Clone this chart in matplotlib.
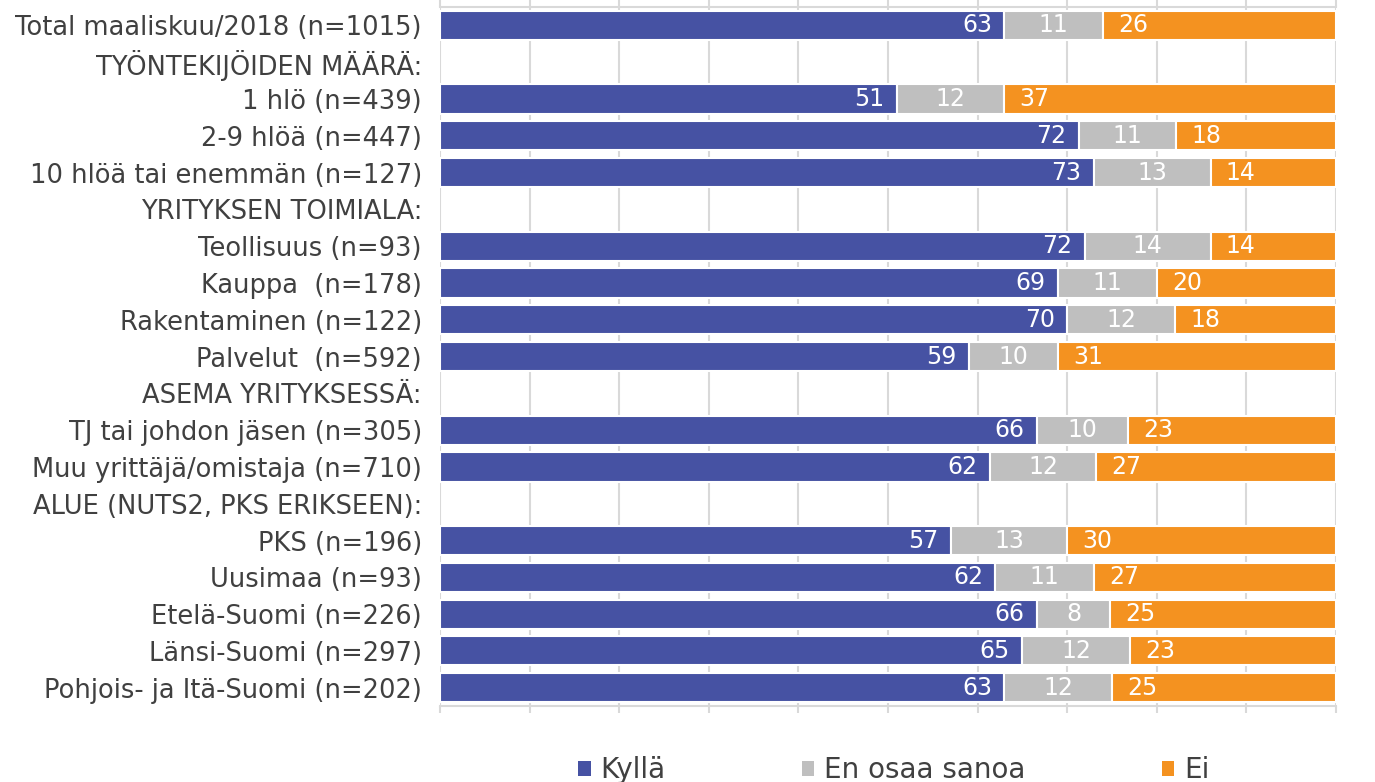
import numpy as np
import matplotlib
matplotlib.use("Agg")
import matplotlib.pyplot as plt
from matplotlib.patches import Patch

labels = ["Total maaliskuu/2018 (n=1015)", "TYÖNTEKIJÖIDEN MÄÄRÄ:", "1 hlö (n=439)",
          "2-9 hlöä (n=447)", "10 hlöä tai enemmän (n=127)", "YRITYKSEN TOIMIALA:",
          "Teollisuus (n=93)", "Kauppa  (n=178)", "Rakentaminen (n=122)", "Palvelut  (n=592)",
          "ASEMA YRITYKSESSÄ:", "TJ tai johdon jäsen (n=305)", "Muu yrittäjä/omistaja (n=710)",
          "ALUE (NUTS2, PKS ERIKSEEN):", "PKS (n=196)", "Uusimaa (n=93)", "Etelä-Suomi (n=226)",
          "Länsi-Suomi (n=297)", "Pohjois- ja Itä-Suomi (n=202)"]
kylla = [63, None, 51, 72, 73, None, 72, 69, 70, 59, None, 66, 62, None, 57, 62, 66, 65, 63]
eos = [11, None, 12, 11, 13, None, 14, 11, 12, 10, None, 10, 12, None, 13, 11, 8, 12, 12]
ei = [26, None, 37, 18, 14, None, 14, 20, 18, 31, None, 23, 27, None, 30, 27, 25, 23, 25]
series = ["Kyllä", "En osaa sanoa", "Ei"]
colors = ["#4652A3", "#BFBFBF", "#F49220"]

fig = plt.figure(figsize=(13.75, 7.82), dpi=100)
ax = fig.add_axes([0.32, 0.097, 0.6516, 0.894])

y = np.arange(len(labels))
for i in range(len(labels)):
    if kylla[i] is None:
        continue
    vals = [kylla[i], eos[i], ei[i]]
    tot = sum(vals)  # rounded values, scale to 100 %
    left = 0
    for j, v in enumerate(vals):
        w = v * 100 / tot
        ax.barh(y[i], w, left=left, height=0.79, color=colors[j],
                edgecolor="white", linewidth=1.5, zorder=2)
        if j == 0:
            ax.annotate(str(v), (left + w, y[i]), xytext=(-9, 0), textcoords="offset points",
                        ha="right", va="center", color="white", fontsize=17)
        elif j == 1:
            ax.text(left + w / 2, y[i], str(v), ha="center", va="center",
                    color="white", fontsize=17)
        else:
            ax.annotate(str(v), (left, y[i]), xytext=(11, 0), textcoords="offset points",
                        ha="left", va="center", color="white", fontsize=17)
        left += w

ax.set_xlim(0, 100)
ax.set_ylim(len(labels) - 0.5, -0.5)
ax.set_yticks(y)
ax.set_yticklabels(labels, fontsize=18.5, color="#404040")
ax.tick_params(axis="y", length=0, pad=13)
ax.set_xticks(np.arange(0, 101, 10))
ax.set_xticklabels([])
ax.tick_params(axis="x", top=True, bottom=True, direction="out", length=5,
               color="#D9D9D9", width=1.5)
ax.grid(axis="x", color="#D9D9D9", linewidth=1.5, zorder=0)
ax.set_axisbelow(True)
for s in ["left", "right"]:
    ax.spines[s].set_visible(False)
for s in ["top", "bottom"]:
    ax.spines[s].set_color("#D9D9D9")
    ax.spines[s].set_linewidth(1.5)

handles = [Patch(facecolor=c, edgecolor="none") for c in colors]
fig.legend(handles, series, loc="center", bbox_to_anchor=(0.65, 0.015), ncol=3,
           frameon=False, fontsize=20, handlelength=0.45, handleheight=0.45,
           handletextpad=0.35, columnspacing=4.9, labelcolor="#404040")

fig.savefig("out.png", dpi=100)
